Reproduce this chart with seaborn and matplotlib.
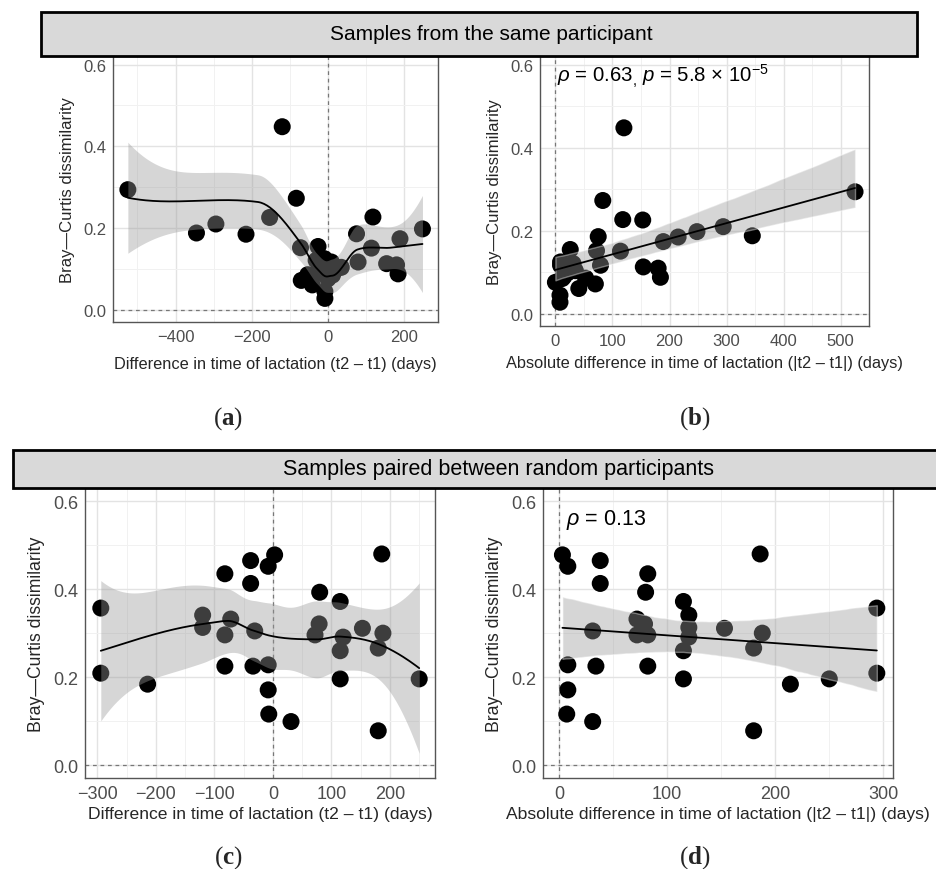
import numpy as np
import pandas as pd
import matplotlib
matplotlib.use("Agg")
import matplotlib.pyplot as plt
import seaborn as sns
from matplotlib.patches import Rectangle
from matplotlib.ticker import MultipleLocator

# samples from the same participant: t2 - t1 (days) and Bray-Curtis
same_diff = [-525, -345, -294, -215, -153, -120, -83, -72, -70, -53, -41, -31, -26, -22, -15, -9,
             -8, -8, 0, 9, 12, 22, 35, 75, 79, 114, 118, 154, 180, 184, 189, 248]
same_bc = [0.294, 0.188, 0.210, 0.185, 0.226, 0.448, 0.273, 0.152, 0.072, 0.086, 0.061, 0.121, 0.155, 0.100, 0.090, 0.125,
           0.045, 0.028, 0.076, 0.117, 0.085, 0.100, 0.104, 0.186, 0.117, 0.151, 0.227, 0.113, 0.110, 0.088, 0.174, 0.198]

# samples paired between random participants
rand_diff = [-294, -294, -214, -120, -120, -82, -82, -82, -72, -38, -38, -34, -31, -8, 3, -8,
             -8, -7, 31, 72, 79, 80, 115, 115, 115, 120, 153, 180, 180, 186, 188, 250]
rand_bc = [0.357, 0.209, 0.184, 0.341, 0.313, 0.435, 0.296, 0.225, 0.332, 0.465, 0.413, 0.225, 0.305, 0.452, 0.478, 0.228,
           0.171, 0.116, 0.099, 0.296, 0.321, 0.393, 0.372, 0.260, 0.196, 0.291, 0.311, 0.266, 0.078, 0.480, 0.300, 0.196]

strip_top = "Samples from the same participant"
strip_bottom = "Samples paired between random participants"
xlab_diff = "Difference in time of lactation (t2 \u2013 t1) (days)"
xlab_abs = "Absolute difference in time of lactation (|t2 \u2013 t1|) (days)"
ylab = "Bray\u2014Curtis dissimilarity"

same = pd.DataFrame({"diff": same_diff, "bc": same_bc})
same["absdiff"] = same["diff"].abs()
rand = pd.DataFrame({"diff": rand_diff, "bc": rand_bc})
rand["absdiff"] = rand["diff"].abs()

sns.set_style("white")
plt.rcParams["font.family"] = ["Liberation Sans", "DejaVu Sans"]
plt.rcParams["mathtext.fontset"] = "custom"
plt.rcParams["mathtext.it"] = "Liberation Sans:italic"
plt.rcParams["mathtext.rm"] = "Liberation Sans"
plt.rcParams["mathtext.bf"] = "Liberation Serif:bold"

W, H = 937, 870
fig = plt.figure(figsize=(W / 100, H / 100), dpi=100)


def rect(l, t, r, b):
    return [l / W, 1 - b / H, (r - l) / W, (b - t) / H]


def loess(x, y, grid, span=0.75, cell=0.2):
    # degree-2 loess, evaluated on kd-tree vertices and joined by cubic
    # hermite pieces, roughly what R's loess(surface="interpolate") does
    x = np.asarray(x, float)
    y = np.asarray(y, float)
    n = len(x)
    q = int(np.floor(n * span))
    sc = x.std()

    def local(x0):
        d = np.abs(x - x0)
        h = np.sort(d)[q - 1]
        w = np.clip(1 - (d / h) ** 3, 0, None) ** 3
        u = (x - x0) / sc
        X = np.column_stack([np.ones(n), u, u ** 2])
        XtW = X.T * w
        A = np.linalg.pinv(XtW @ X) @ XtW
        return A[0], A[1] / sc

    fc = int(np.floor(n * span * cell))
    xs = np.sort(x)
    mu = 0.005 * (xs[-1] - xs[0])
    verts = [xs[0] - mu, xs[-1] + mu]

    def split(a):
        if len(a) <= fc:
            return
        m = (len(a) + 1) // 2
        verts.append((a[m - 1] + a[m]) / 2)
        split(a[:m])
        split(a[m:])

    split(xs)
    V = np.array(sorted(set(verts)))
    Lv, Dv = zip(*[local(v) for v in V])
    Lv, Dv = np.array(Lv), np.array(Dv)

    def rows(xq):
        out = []
        for x0 in xq:
            i = int(np.clip(np.searchsorted(V, x0) - 1, 0, len(V) - 2))
            a, b = V[i], V[i + 1]
            hl = b - a
            t = (x0 - a) / hl
            h00 = 2 * t ** 3 - 3 * t ** 2 + 1
            h10 = t ** 3 - 2 * t ** 2 + t
            h01 = -2 * t ** 3 + 3 * t ** 2
            h11 = t ** 3 - t ** 2
            out.append(h00 * Lv[i] + h10 * hl * Dv[i] + h01 * Lv[i + 1] + h11 * hl * Dv[i + 1])
        return np.array(out)

    L = rows(x)
    M = np.eye(n) - L
    d1 = np.trace(M.T @ M)
    s2 = np.sum((M @ y) ** 2) / d1
    R = rows(grid)
    return R @ y, np.sqrt(s2 * np.sum(R ** 2, axis=1))


def style(ax, xlim, xmaj, ylim, tsize):
    ax.set_xlim(*xlim)
    ax.set_ylim(*ylim)
    ax.xaxis.set_major_locator(MultipleLocator(xmaj))
    ax.xaxis.set_minor_locator(MultipleLocator(xmaj / 2))
    ax.yaxis.set_minor_locator(MultipleLocator(0.1))
    ax.set_yticks([0.0, 0.2, 0.4, 0.6])
    ax.set_yticklabels(["0.0", "0.2", "0.4", "0.6"])
    ax.grid(True, which="major", color="#e3e3e3", lw=1.0, zorder=0)
    ax.grid(True, which="minor", color="#f1f1f1", lw=0.7, zorder=0)
    ax.set_axisbelow(True)
    for s in ax.spines.values():
        s.set_color("#555555")
        s.set_linewidth(1.0)
    ax.tick_params(which="major", length=3, width=0.8, color="#555555",
                   labelcolor="#4d4d4d", labelsize=tsize, pad=2)
    ax.tick_params(which="minor", length=0)
    ax.axhline(0, color="#777777", lw=0.9, ls=(0, (3, 3)), zorder=1)
    ax.axvline(0, color="#777777", lw=0.9, ls=(0, (3, 3)), zorder=1)
    xt = [t for t in ax.get_xticks() if xlim[0] <= t <= xlim[1]]
    ax.set_xticks(xt)
    ax.set_xticklabels([("\u2212%d" % -t) if t < 0 else "%d" % t for t in xt])


def points(ax, df, xcol):
    sns.scatterplot(data=df, x=xcol, y="bc", ax=ax, color="black", s=150,
                    edgecolor="none", linewidth=0, zorder=2, legend=False)


def smooth_panel(ax, df):
    grid = np.linspace(df["diff"].min(), df["diff"].max(), 200)
    fit, se = loess(df["diff"], df["bc"], grid)
    ax.fill_between(grid, fit - 2.05 * se, fit + 2.05 * se, color="#999999",
                    alpha=0.4, lw=0, zorder=3)
    ax.plot(grid, fit, color="black", lw=1.3, zorder=4)


def linear_panel(ax, df):
    sns.regplot(data=df, x="absdiff", y="bc", ax=ax, scatter=False, ci=95,
                seed=1, n_boot=2000, color="#999999", line_kws={"lw": 1.3})
    ax.lines[-1].set_color("black")
    ax.lines[-1].set_zorder(4)
    ax.collections[-1].set_alpha(0.4)
    ax.collections[-1].set_zorder(3)


# --- panel a
ax_a = fig.add_axes(rect(113, 57, 437.7, 322.7))
points(ax_a, same, "diff")
smooth_panel(ax_a, same)
style(ax_a, (-564, 288), 200, (-0.029, 0.621), 12)
ax_a.set_xlabel(xlab_diff, fontsize=11.8, labelpad=9)
ax_a.set_ylabel(ylab, fontsize=12, labelpad=6)

# --- panel b
ax_b = fig.add_axes(rect(540, 57, 869.3, 327.3))
points(ax_b, same, "absdiff")
linear_panel(ax_b, same)
style(ax_b, (-27, 550), 100, (-0.03, 0.621), 12)
ax_b.xaxis.set_minor_locator(MultipleLocator(50))
ax_b.set_xlabel(xlab_abs, fontsize=11.8, labelpad=5)
ax_b.set_ylabel(ylab, fontsize=12, labelpad=6)
ax_b.text(2, 0.575, "$\\rho$ = 0.63$_{,}$ $p$ = 5.8 \u00d7 10$^{-5}$",
          fontsize=14.7, ha="left", va="center", color="black")

# --- panel c
ax_c = fig.add_axes(rect(85, 489, 435, 779.3))
points(ax_c, rand, "diff")
smooth_panel(ax_c, rand)
style(ax_c, (-321, 277), 100, (-0.03, 0.63), 13)
ax_c.xaxis.set_minor_locator(MultipleLocator(50))
ax_c.set_xlabel(xlab_diff, fontsize=12.6, labelpad=3)
ax_c.set_ylabel(ylab, fontsize=12.7, labelpad=6)

# --- panel d
ax_d = fig.add_axes(rect(543.3, 489, 892.7, 779.3))
points(ax_d, rand, "absdiff")
linear_panel(ax_d, rand)
style(ax_d, (-14.7, 308.7), 100, (-0.03, 0.63), 13)
ax_d.xaxis.set_minor_locator(MultipleLocator(50))
ax_d.set_xlabel(xlab_abs, fontsize=12.6, labelpad=3)
ax_d.set_ylabel(ylab, fontsize=12.7, labelpad=6)
ax_d.text(6, 0.56, "$\\rho$ = 0.13", fontsize=15.5, ha="left", va="center", color="black")

# --- facet strips
for (l, t, r, b), label, cx, fs in [((40.7, 13.3, 916.7, 56.7), strip_top, 491, 15),
                                    ((13, 451, 960, 489), strip_bottom, 499, 15.5)]:
    fig.patches.append(Rectangle((l / W, 1 - b / H), (r - l) / W, (b - t) / H,
                                 transform=fig.transFigure, facecolor="#d9d9d9",
                                 edgecolor="black", lw=2, zorder=0))
    fig.text(cx / W, 1 - (t + b) / 2 / H, label, ha="center", va="center",
             fontsize=fs, color="black")

# --- panel letters
for lab, x, y in [("a", 228, 419), ("b", 695, 419), ("c", 228, 858), ("d", 695, 858)]:
    fig.text(x / W, 1 - y / H, "(" + r"$\mathbf{%s}$" % lab + ")", ha="center", va="center",
             fontsize=18, family=["Liberation Serif", "DejaVu Serif"])

fig.savefig("out.png", dpi=100)
